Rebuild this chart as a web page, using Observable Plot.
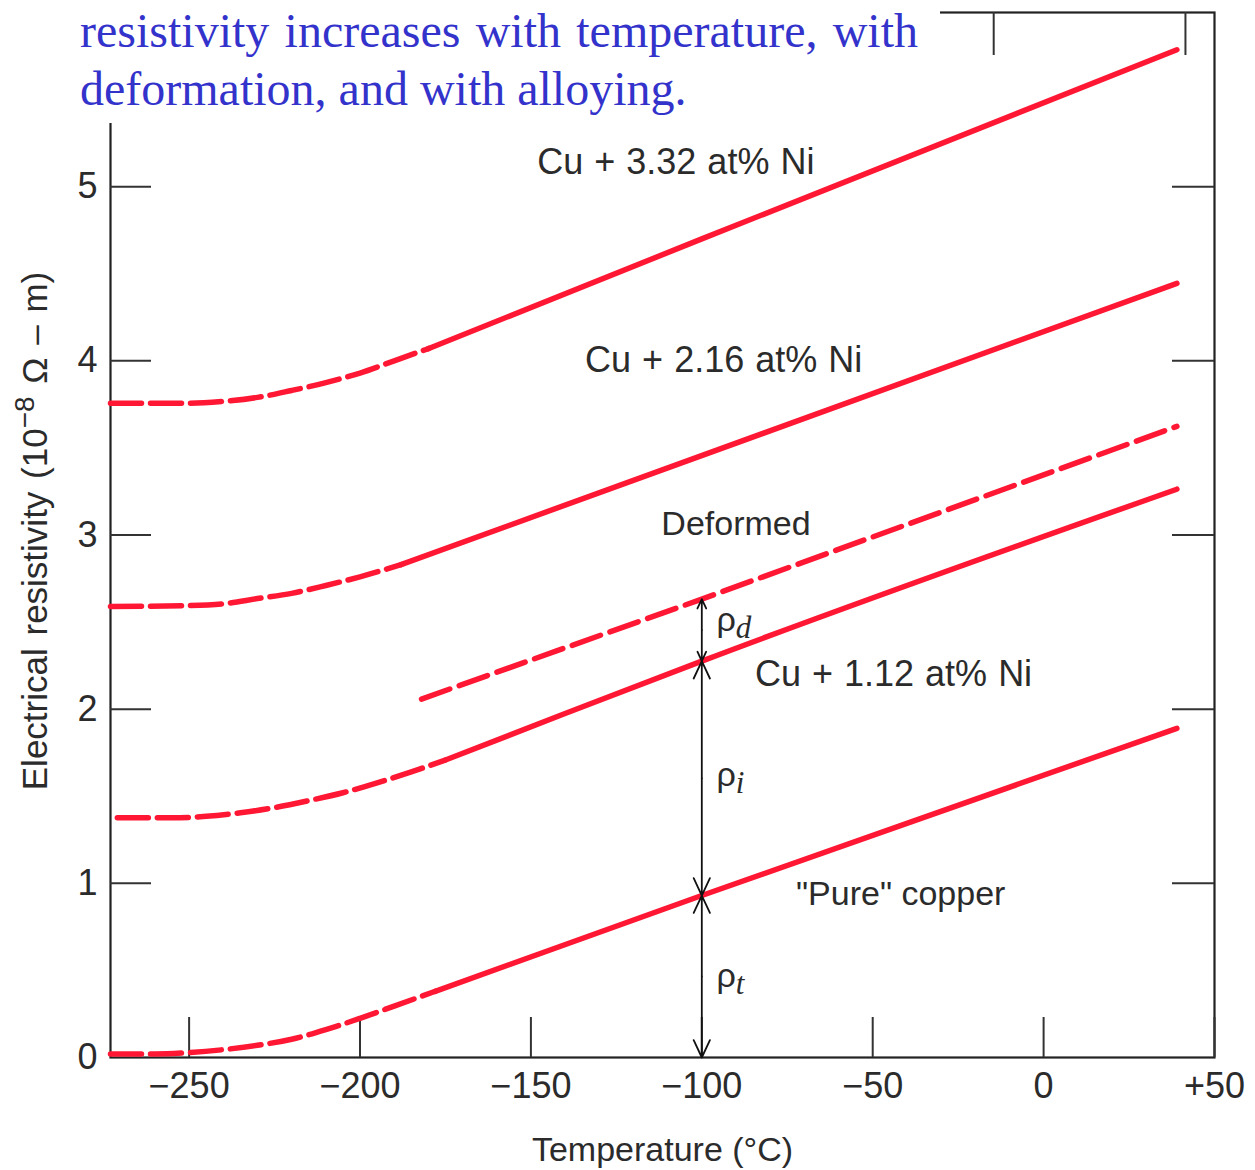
<!DOCTYPE html>
<html><head><meta charset="utf-8">
<script src="https://cdn.jsdelivr.net/npm/d3@7"></script>
<script src="https://cdn.jsdelivr.net/npm/@observablehq/plot@0.6"></script>
<style>
body{margin:0;background:#fff;}
#wrap{position:relative;width:1255px;height:1170px;overflow:hidden;background:#fff;}
#chart{position:absolute;left:0;top:0;}
#titlebox{position:absolute;left:60px;top:0;width:880px;height:123px;background:#fff;}
.tl{position:absolute;left:20px;font-family:"Liberation Serif","Times New Roman",serif;font-size:48px;line-height:48px;color:#3333cc;white-space:nowrap;}
#t1{top:7px;width:838px;text-align:justify;text-align-last:justify;}
#t2{top:65px;}
</style></head>
<body>
<div id="wrap"><div id="chart"></div><div id="titlebox"><div class="tl" id="t1"></div><div class="tl" id="t2"></div></div></div>
<script>
// ---- text ----
const titleLines = ["resistivity increases with temperature, with", "deformation, and with alloying."];
const xLabel = "Temperature (\u00B0C)";
const yLabelParts = ["Electrical resistivity (10", "\u22128", " \u03A9 \u2013 m)"];

// ---- axes ----
const xDomain = [-273, 50];
const yDomain = [0, 6];
const xTicks = [-250, -200, -150, -100, -50, 0, 50];
const yTicks = [0, 1, 2, 3, 4, 5];
const topTicks = [-14.6, 41.5];

// ---- series (temperature °C, resistivity 1e-8 ohm m) ----
const pureDashT = [-273, -260, -250, -240, -230, -220, -210, -200, -190, -178];
const pureDashR = [0.02, 0.02, 0.028, 0.045, 0.07, 0.105, 0.16, 0.225, 0.295, 0.38];
const pureSolidT = [-178, -100, 39];
const pureSolidR = [0.38, 0.93, 1.89];

const ni112DashT = [-271, -255, -245, -235, -225, -215, -205, -195, -185, -175];
const ni112DashR = [1.376, 1.376, 1.385, 1.405, 1.435, 1.475, 1.52, 1.577, 1.64, 1.708];
const ni112SolidT = [-175, -140, -100, 39];
const ni112SolidR = [1.708, 1.975, 2.276, 3.263];

const deformedT = [-182, -100, 39];
const deformedR = [2.058, 2.632, 3.624];

const ni216DashT = [-273, -250, -240, -230, -220, -210, -200, -188];
const ni216DashR = [2.59, 2.595, 2.605, 2.635, 2.665, 2.71, 2.76, 2.83];
const ni216SolidT = [-188, 39];
const ni216SolidR = [2.83, 4.445];

const ni332DashT = [-273, -250, -240, -230, -220, -210, -200, -190, -180];
const ni332DashR = [3.756, 3.756, 3.767, 3.79, 3.83, 3.875, 3.93, 4.0, 4.07];
const ni332SolidT = [-180, -100, 39];
const ni332SolidR = [4.07, 4.70, 5.786];

// ---- annotations ----
const labelText = ["Cu + 3.32 at% Ni", "Cu + 2.16 at% Ni", "Deformed", "Cu + 1.12 at% Ni", "\"Pure\" copper"];
const labelT = [-107.6, -93.6, -90, -43.9, -41.8];
const labelR = [5.14, 4.0, 3.06, 2.20, 0.94];

const rhoText = ["\u03C1d", "\u03C1i", "\u03C1t"];
const rhoT = [-95.7, -95.7, -95.7];
const rhoR = [2.51, 1.62, 0.47];

const arrowT = -100;
const rhoBounds = [0, 0.93, 2.276, 2.632];

// ---- build ----
const W = 1255, H = 1170, mL = 110, mR = 41, mT = 12, mB = 113;
const pxX = (W - mL - mR) / (xDomain[1] - xDomain[0]);
const pxY = (H - mT - mB) / (yDomain[1] - yDomain[0]);
const red = "#ff1733";
const ink = "#2b2b2b";
const tickColor = "#333";

const pts = (T, R, name) => T.map((t, i) => ({t, r: R[i], name}));
const dashData = [
  ...pts(pureDashT, pureDashR, "pure"),
  ...pts(ni112DashT, ni112DashR, "ni112"),
  ...pts(ni216DashT, ni216DashR, "ni216"),
  ...pts(ni332DashT, ni332DashR, "ni332")
];
const solidData = [
  ...pts(pureSolidT, pureSolidR, "pure"),
  ...pts(ni112SolidT, ni112SolidR, "ni112"),
  ...pts(ni216SolidT, ni216SolidR, "ni216"),
  ...pts(ni332SolidT, ni332SolidR, "ni332")
];
const deformedData = pts(deformedT, deformedR, "deformed");
const labels = labelText.map((s, i) => ({s, t: labelT[i], r: labelR[i], big: s.startsWith("Cu")}));
const rhos = rhoText.map((s, i) => ({s, t: rhoT[i], r: rhoR[i]}));
const arrows = [];
for (let i = 0; i < rhoBounds.length - 1; i++) {
  const lo = rhoBounds[i], hi = rhoBounds[i + 1], mid = (lo + hi) / 2;
  arrows.push({x: arrowT, from: mid, to: lo});
  arrows.push({x: arrowT, from: mid, to: hi});
}
const fmt = d => d > 0 ? "+" + d : d < 0 ? "\u2212" + Math.abs(d) : "0";
const yLabel = yLabelParts.join("");

const svg = Plot.plot({
  width: W, height: H,
  marginLeft: mL, marginRight: mR, marginTop: mT, marginBottom: mB,
  style: {fontFamily: "'Liberation Sans', Arial, sans-serif", background: "#fff", overflow: "visible"},
  x: {domain: xDomain, axis: null},
  y: {domain: yDomain, axis: null},
  marks: [
    Plot.frame({stroke: "#222", strokeWidth: 2.2}),
    Plot.ruleX(xTicks, {x: d => d, y1: 0, y2: 40 / pxY, stroke: tickColor, strokeWidth: 2}),
    Plot.ruleX(topTicks, {x: d => d, y1: yDomain[1], y2: yDomain[1] - 43 / pxY, stroke: tickColor, strokeWidth: 2}),
    Plot.ruleY(yTicks.filter(d => d > 0), {y: d => d, x1: xDomain[0], x2: xDomain[0] + 41 / pxX, stroke: tickColor, strokeWidth: 2}),
    Plot.ruleY(yTicks.filter(d => d > 0), {y: d => d, x1: xDomain[1] - 42 / pxX, x2: xDomain[1], stroke: tickColor, strokeWidth: 2}),
    Plot.line(dashData, {x: "t", y: "r", z: "name", stroke: red, strokeWidth: 5.5, strokeDasharray: "31,9", curve: "monotone-x"}),
    Plot.line(solidData, {x: "t", y: "r", z: "name", stroke: red, strokeWidth: 5.5, curve: "monotone-x"}),
    Plot.line(deformedData, {x: "t", y: "r", stroke: red, strokeWidth: 5.5, strokeDasharray: "30,10"}),
    Plot.arrow(arrows, {x1: "x", x2: "x", y1: "from", y2: "to", stroke: "#111", strokeWidth: 1.8, headLength: 16, headAngle: 50}),
    Plot.text(xTicks, {x: d => d, y: yDomain[0], text: fmt, dy: 29, fontSize: 36, fill: ink}),
    Plot.text(yTicks, {x: xDomain[0], y: d => d, text: d => String(d), textAnchor: "end", dx: -13, fontSize: 36, fill: ink}),
    Plot.text([xLabel], {text: d => d, frameAnchor: "bottom", textAnchor: "middle", dy: 103, fontSize: 34, fill: ink}),
    Plot.text([yLabel], {text: d => d, frameAnchor: "left", textAnchor: "middle", rotate: -90, dx: -75, dy: -4, fontSize: 35, fill: ink}),
    Plot.text(labels.filter(d => d.big), {x: "t", y: "r", text: "s", fontSize: 36, fill: ink}),
    Plot.text(labels.filter(d => !d.big), {x: "t", y: "r", text: "s", fontSize: 34, fill: ink}),
    Plot.text(rhos, {x: "t", y: "r", text: "s", textAnchor: "start", fontSize: 34, fill: ink})
  ]
});

// rich text: superscript, subscripts
d3.select(svg).selectAll("text").each(function () {
  const s = this.textContent;
  const sel = d3.select(this);
  if (s === yLabel) {
    sel.text(null).attr("word-spacing", 3);
    sel.append("tspan").text(yLabelParts[0]);
    sel.append("tspan").attr("dy", -13).attr("font-size", 28).text(yLabelParts[1]);
    sel.append("tspan").attr("dy", 13).attr("font-size", 35).text(yLabelParts[2]);
  } else if (rhoText.includes(s)) {
    sel.text(null);
    sel.append("tspan").text(s[0]);
    sel.append("tspan").attr("dy", 7).attr("font-size", 31).attr("font-style", "italic")
      .attr("font-family", "'Liberation Serif', 'Times New Roman', serif").text(s.slice(1));
  } else if (s.startsWith("Cu + ")) {
    sel.attr("word-spacing", 1);
  }
});

document.getElementById("chart").appendChild(svg);
document.getElementById("t1").textContent = titleLines[0];
document.getElementById("t2").textContent = titleLines[1];
</script>
</body></html>
